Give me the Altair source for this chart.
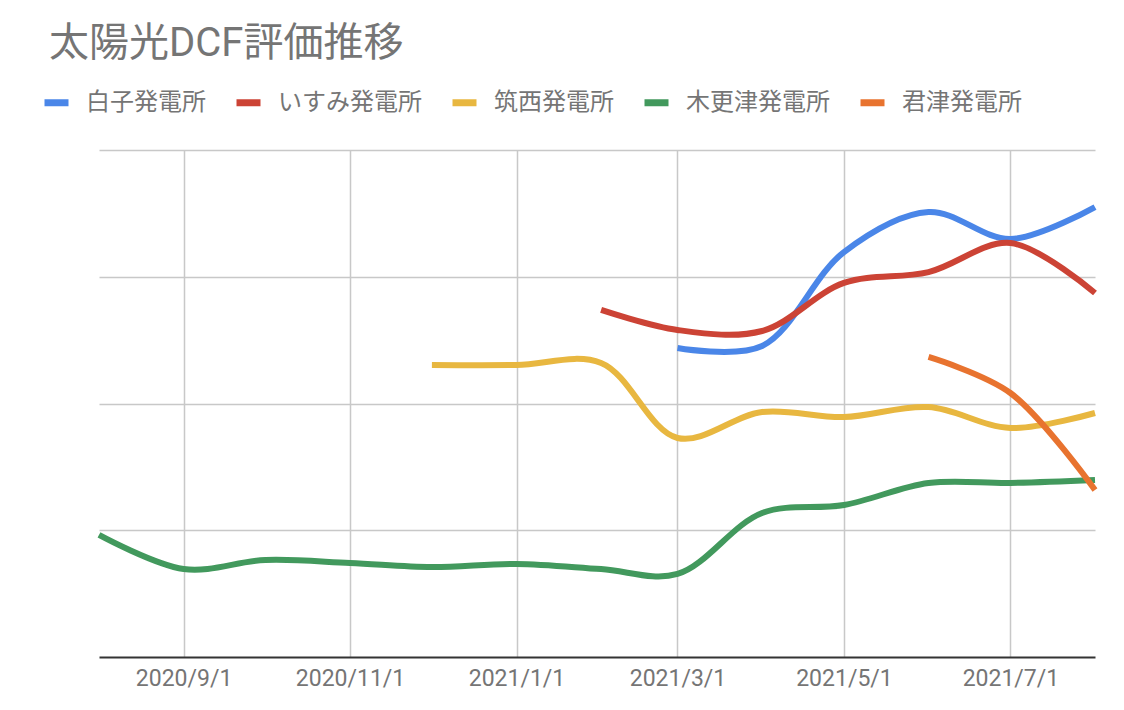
import altair as alt
import pandas as pd

series_names = ["白子発電所", "いすみ発電所", "筑西発電所", "木更津発電所", "君津発電所"]
series_colors = ["#4a86e8", "#cc4335", "#e8b740", "#42995d", "#e8732f"]

months = ["2020-08-01", "2020-09-01", "2020-10-01", "2020-11-01", "2020-12-01",
          "2021-01-01", "2021-02-01", "2021-03-01", "2021-04-01", "2021-05-01",
          "2021-06-01", "2021-07-01", "2021-08-01"]

# values per series (None = no data that month)
shiroko = [None, None, None, None, None, None, None, 243.8, 245.4, 319.5, 351.1, 329.8, 355.0]
isumi = [None, None, None, None, None, None, 273.8, 258.0, 257.2, 295.1, 303.7, 326.6, 287.2]
chikusei = [None, None, None, None, 230.4, 230.4, 232.0, 172.8, 193.3, 189.3, 197.2, 180.7, 192.5]
kisarazu = [96.3, 69.4, 76.5, 74.2, 71.0, 73.4, 69.4, 65.5, 113.6, 119.9, 137.3, 137.3, 139.6]
kimitsu = [None, None, None, None, None, None, None, None, None, None, 236.7, 208.3, 131.8]

tick_dates = ["2020-09-01", "2020-11-01", "2021-01-01", "2021-03-01", "2021-05-01", "2021-07-01"]

rows = []
for name, vals in zip(series_names, [shiroko, isumi, chikusei, kisarazu, kimitsu]):
    for m, v in zip(months, vals):
        if v is not None:
            rows.append({"date": m, "series": name, "value": v})
df = pd.DataFrame(rows)


def dt(s):
    y, mo, d = s.split("-")
    return alt.DateTime(year=int(y), month=int(mo), date=int(d))


FONT = "Roboto, 'Noto Sans CJK JP', sans-serif"
GREY = "#757575"

chart = alt.Chart(df).mark_line(strokeWidth=6, interpolate="catmull-rom", strokeCap="butt").encode(
    x=alt.X("date:T",
            scale=alt.Scale(domain=[dt("2020-08-01"), dt("2021-08-01")]),
            axis=alt.Axis(title=None, values=[dt(t) for t in tick_dates], format="%Y/%-m/%-d",
                          grid=True, gridColor="#c8c8c8", gridWidth=1.5,
                          domainColor="#333333", domainWidth=2, ticks=False,
                          labelFont=FONT, labelFontSize=23, labelColor=GREY, labelPadding=10)),
    y=alt.Y("value:Q",
            scale=alt.Scale(domain=[0, 400], nice=False),
            axis=alt.Axis(title=None, values=[100, 200, 300, 400], labels=False, ticks=False,
                          domain=False, grid=True, gridColor="#c8c8c8", gridWidth=1.5)),
    color=alt.Color("series:N",
                    scale=alt.Scale(domain=series_names, range=series_colors),
                    legend=alt.Legend(title=None, orient="none", direction="horizontal",
                                      legendX=-58, legendY=-63,
                                      symbolType="stroke", symbolStrokeWidth=7, symbolSize=576,
                                      labelFont=FONT, labelFontSize=24, labelColor=GREY,
                                      labelOffset=14, columnPadding=16)),
    detail="series:N",
).properties(
    width=996, height=507,
    autosize=alt.AutoSizeParams(type="none"),
    padding={"left": 99, "top": 150, "right": 29, "bottom": 53},
    title=alt.TitleParams("太陽光DCF評価推移", anchor="start", frame="group", dx=-50,
                          font=FONT, fontSize=40, fontWeight="normal", color=GREY, offset=23),
).configure_view(stroke=None)

chart.save("out.html", embed_options={"renderer": "svg", "actions": False})
